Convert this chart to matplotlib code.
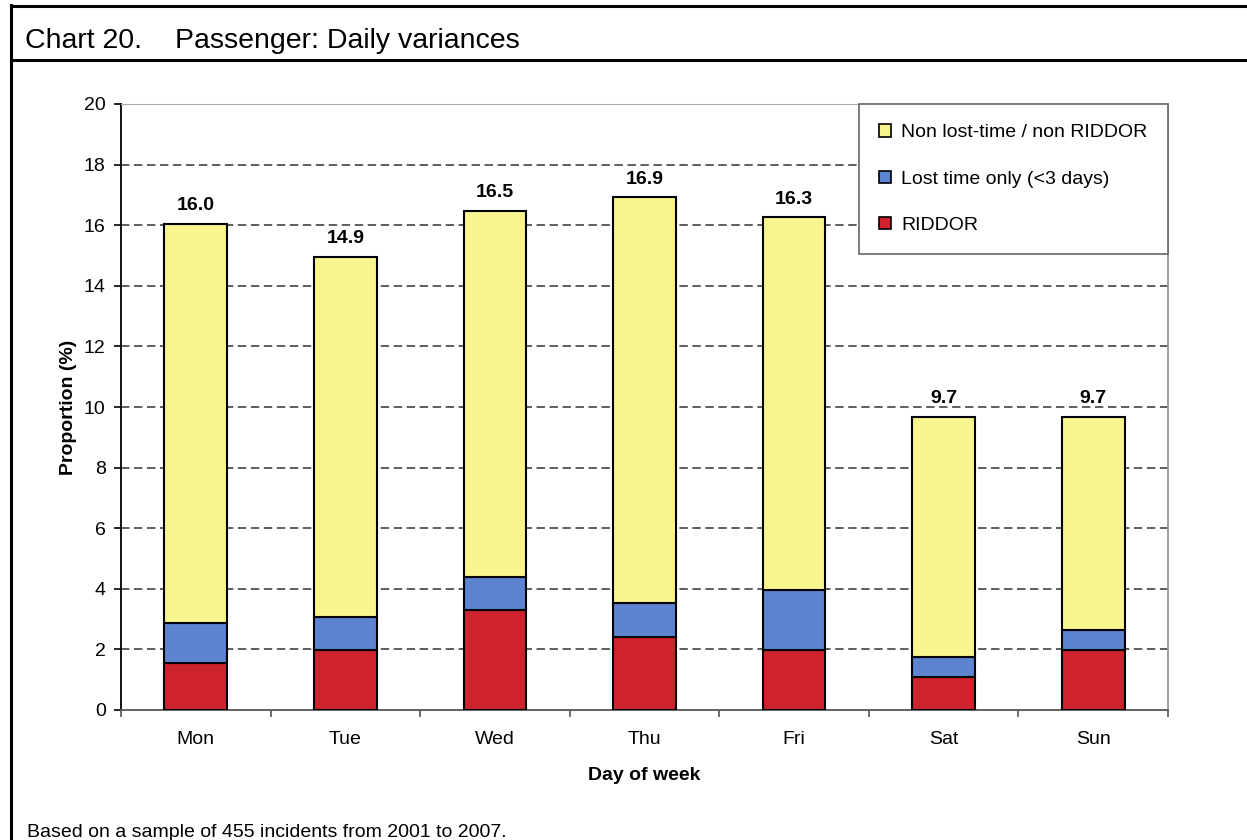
import matplotlib
matplotlib.use('Agg')
import matplotlib.pyplot as plt
from matplotlib.lines import Line2D
from matplotlib.patches import Patch
import numpy as np

plt.rcParams['font.family'] = ['Liberation Sans', 'DejaVu Sans']

# data (percent of 455 incidents)
days = ['Mon', 'Tue', 'Wed', 'Thu', 'Fri', 'Sat', 'Sun']
riddor = [1.54, 1.98, 3.30, 2.42, 1.98, 1.10, 1.98]
lost_time = [1.32, 1.10, 1.10, 1.10, 1.98, 0.66, 0.66]
non_lost = [13.18, 11.87, 12.08, 13.40, 12.30, 7.91, 7.03]
totals = [16.0, 14.9, 16.5, 16.9, 16.3, 9.7, 9.7]

series_labels = ['RIDDOR', 'Lost time only (<3 days)', 'Non lost-time / non RIDDOR']
colors = ['#CE232C', '#5C84D0', '#F8F58F']

fig = plt.figure(figsize=(12.47, 8.40), dpi=100)
ax = fig.add_axes([121 / 1247, 1 - 710 / 840, 1047 / 1247, 606 / 840])

x = np.arange(len(days))
width = 0.42
bottom = np.zeros(len(days))
for vals, col in zip([riddor, lost_time, non_lost], colors):
    ax.bar(x, vals, width, bottom=bottom, color=col, edgecolor='black',
           linewidth=1.5, zorder=3)
    bottom += np.array(vals)

for xi, top, t in zip(x, bottom, totals):
    ax.annotate('{:.1f}'.format(t), (xi, top), xytext=(0, 7),
                textcoords='offset points', ha='center', va='bottom',
                fontsize=14, fontweight='bold')

ax.set_xlim(-0.5, len(days) - 0.5)
ax.set_ylim(0, 20)
ax.set_yticks(range(0, 21, 2))
ax.set_xticks(x)
ax.set_xticklabels(days)
ax.set_xticks(np.arange(-0.5, len(days), 1), minor=True)
ax.tick_params(axis='x', which='major', length=0, pad=15, labelsize=14)
ax.tick_params(axis='x', which='minor', length=5, width=1.2, color='#555555')
ax.tick_params(axis='y', length=5, width=1.2, pad=6, labelsize=14)

for y in range(2, 20, 2):
    ax.axhline(y, color='#333333', linestyle=(0, (5.5, 3)), linewidth=1.1, zorder=1)

ax.spines['left'].set_color('black')
ax.spines['left'].set_linewidth(1.3)
ax.spines['bottom'].set_color('#555555')
ax.spines['bottom'].set_linewidth(1.3)
ax.spines['top'].set_color('#aaaaaa')
ax.spines['right'].set_color('#999999')
ax.spines['right'].set_linewidth(1.3)

ax.set_ylabel('Proportion (%)', fontsize=14, fontweight='bold', labelpad=5)
ax.set_xlabel('Day of week', fontsize=14, fontweight='bold', labelpad=14)

handles = [Patch(facecolor=c, edgecolor='black', linewidth=1.2) for c in colors]
leg = ax.legend(handles[::-1], series_labels[::-1], loc='upper right',
                bbox_to_anchor=(1.0, 1.0), borderaxespad=0, fontsize=14,
                handlelength=0.6, handleheight=0.6, handletextpad=0.55,
                labelspacing=1.5, borderpad=1.05, fancybox=False,
                framealpha=1, edgecolor='#666666')
leg.get_frame().set_linewidth(1.2)
leg.set_zorder(5)

# outer frame like the report page
fig.add_artist(Line2D([11 / 1247, 11 / 1247], [0, 1 - 5 / 840], color='black',
                      linewidth=2.2, transform=fig.transFigure))
fig.add_artist(Line2D([11 / 1247, 1], [1 - 6 / 840, 1 - 6 / 840], color='black',
                      linewidth=2.2, transform=fig.transFigure))
fig.add_artist(Line2D([11 / 1247, 1], [1 - 60 / 840, 1 - 60 / 840], color='black',
                      linewidth=2.2, transform=fig.transFigure))

fig.text(25 / 1247, 1 - 48 / 840, 'Chart 20.', fontsize=20.5, va='baseline')
fig.text(175 / 1247, 1 - 48 / 840, 'Passenger: Daily variances', fontsize=20.5,
         va='baseline')
fig.text(27 / 1247, 1 - 837 / 840,
         'Based on a sample of 455 incidents from 2001 to 2007.', fontsize=14,
         va='baseline')

fig.savefig('out.png', dpi=100)
